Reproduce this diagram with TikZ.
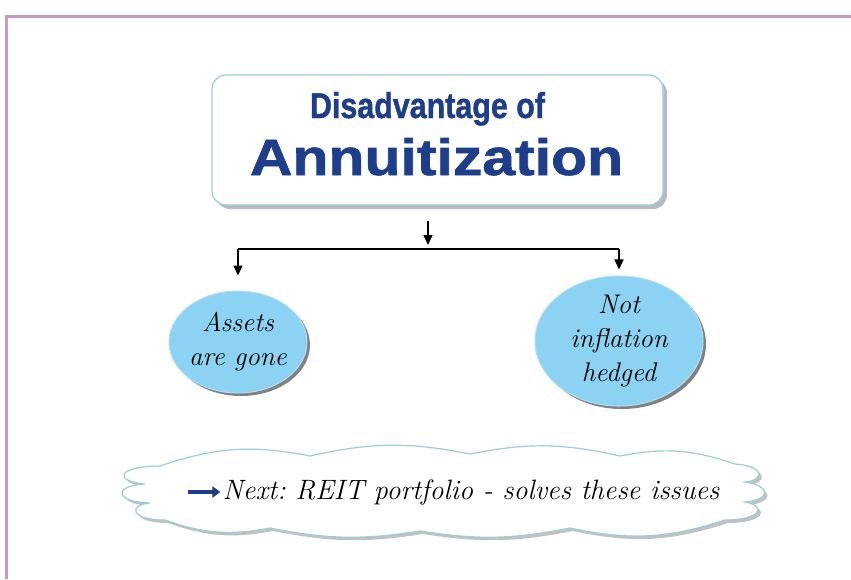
\documentclass[tikz,border=0pt]{standalone}
\usepackage{fontspec}
\usetikzlibrary{arrows.meta,shadows,shapes.geometric}
\newfontfamily\titlefont[BoldFeatures={FakeBold=1.2}]{Liberation Sans}
\definecolor{titleblue}{RGB}{30,62,140}
\definecolor{framepink}{RGB}{200,155,190}
\definecolor{ovalblue}{RGB}{140,210,242}
\definecolor{ovaledge}{RGB}{175,222,245}
\definecolor{boxedge}{RGB}{150,205,225}
\definecolor{cloudedge}{RGB}{155,205,220}
\tikzset{
  titlebox/.style={draw=boxedge, line width=1.2pt, fill=white, rounded corners=14pt,
    drop shadow={shadow xshift=4pt, shadow yshift=-4pt, fill=black!45, opacity=.6}},
  oval/.style={ellipse, fill=ovalblue, draw=ovaledge, line width=1pt, inner sep=0pt,
    align=center, font=\itshape\fontsize{27}{34}\selectfont,
    drop shadow={shadow xshift=3pt, shadow yshift=-3pt, fill=black!70, opacity=.7}},
  arr/.style={line width=1.3pt, -{Triangle[length=10pt,width=9pt]}},
  link/.style={line width=1.3pt},
  cloudshape/.style={fill=white, draw=cloudedge, line width=1.2pt,
    drop shadow={shadow xshift=3pt, shadow yshift=-3pt, fill=black!40, opacity=.6}},
  notetext/.style={inner sep=0pt, font=\itshape\fontsize{28}{32}\selectfont},
  bluearrow/.style={line width=3.5pt, titleblue, -{Triangle[length=8pt,width=11pt]}}
}
\begin{document}
\frenchspacing
\begin{tikzpicture}[x=1pt,y=-1pt]
\useasboundingbox (0,0) rectangle (851,579);
\fill[white] (0,0) rectangle (851,579);
\draw[framepink, line width=3pt] (6,579) -- (6,16) -- (851,16);

% title
\node[titlebox, minimum width=451pt, minimum height=130pt] (title) at (437.5,140) {};
\node[anchor=base, inner sep=0pt, text=titleblue] (t1) at (427.5,118)
  {\resizebox{235pt}{26pt}{\titlefont\bfseries Disadvantage of}};
\node[anchor=base, inner sep=0pt, text=titleblue] (t2) at (436.5,175)
  {\resizebox{373pt}{37pt}{\titlefont\bfseries Annuitization}};

% ovals
\node[oval, minimum width=136pt, minimum height=102pt] (a) at (238,342) {Assets\\are gone};
\node[oval, minimum width=168pt, minimum height=118pt] (b) at (619,341) {Not\\inflation\\hedged};

% connectors
\coordinate (top) at (428,221);
\coordinate (bus) at (428,249);
\draw[arr] (top) -- ([yshift=4pt]bus);
\draw[link] (bus -| a) -- (bus -| b);
\draw[arr] (bus -| a) -- ([yshift=15pt]a.north);
\draw[arr] (bus -| b) -- ([yshift=6pt]b.north);

% cloud
\path[cloudshape]
  (165,520) .. controls (130,520) and (128,505) .. (150,503)
  .. controls (115,502) and (112,486) .. (145,484)
  .. controls (112,481) and (118,466) .. (160,466)
  to[bend left=15] (310,456) to[bend left=12] (470,454) to[bend left=12] (620,456) to[bend left=15] (735,464)
  .. controls (765,466) and (765,480) .. (745,482)
  .. controls (772,486) and (770,500) .. (745,502)
  .. controls (768,506) and (760,520) .. (725,520)
  to[bend left=15] (570,528) to[bend left=10] (420,531) to[bend left=10] (270,528) to[bend left=15] (165,520)
  -- cycle;
\node[notetext] (note) at (471,492) {Next: REIT portfolio - solves these issues};
\draw[bluearrow] ([xshift=-34pt]note.west) -- ([xshift=-2pt]note.west);
\end{tikzpicture}
\end{document}
